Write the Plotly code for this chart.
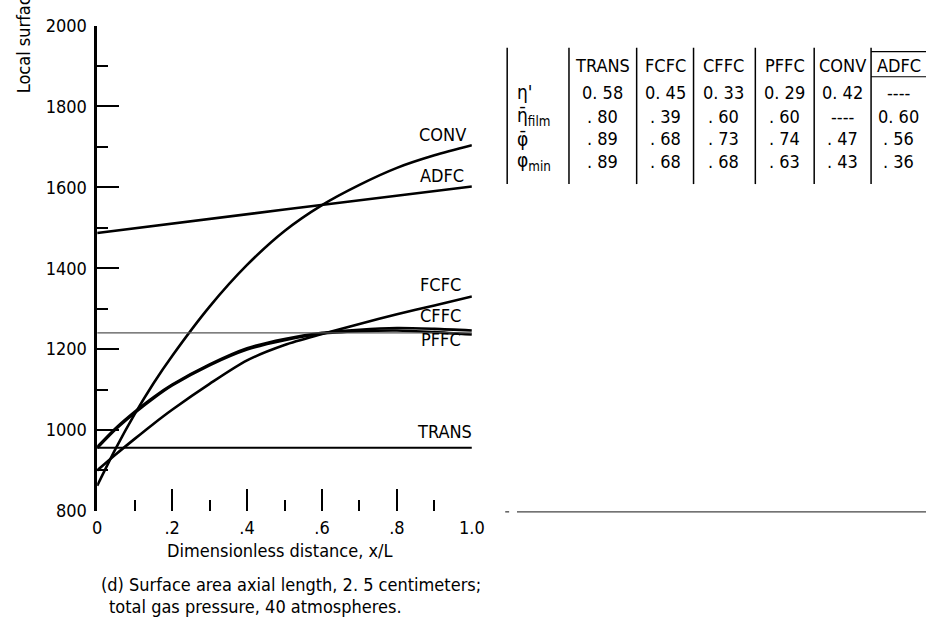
import plotly.graph_objects as go

W, H = 939, 634

# Dimensionless distance along the surface, x/L
x_pos = [0, 0.05, 0.1, 0.15, 0.2, 0.3, 0.4, 0.5, 0.6, 0.7, 0.8, 0.9, 1.0]

# Local surface temperature, K, for each cooling scheme
conv = [862, 955, 1039, 1115, 1183, 1305, 1408, 1492, 1556, 1606, 1648, 1679, 1704]
fcfc = [900, 940, 978, 1015, 1050, 1114, 1172, 1210, 1237, 1262, 1286, 1308, 1330]
cffc = [958, 1005, 1045, 1081, 1112, 1162, 1202, 1225, 1240, 1248, 1252, 1250, 1246]
pffc = [955, 1002, 1042, 1078, 1110, 1160, 1199, 1222, 1238, 1244, 1246, 1242, 1236]
adfc_x = [0, 0.5, 1.0]
adfc = [1487, 1545, 1602]
trans_x = [0, 1.0]
trans = [956, 956]
ref_x = [0, 1.0]
ref_level = [1240, 1240]

x_tick_vals = [0, 0.2, 0.4, 0.6, 0.8, 1.0]
x_tick_text = ["0", ".2", ".4", ".6", ".8", "1.0"]
y_tick_vals = [800, 1000, 1200, 1400, 1600, 1800, 2000]

# Effectiveness table
table_cols = ["TRANS", "FCFC", "CFFC", "PFFC", "CONV", "ADFC"]
row_labels = ["η'", "η̄<sub>film</sub>", "φ̄", "φ<sub>min</sub>"]
eta_prime = ["0. 58", "0. 45", "0. 33", "0. 29", "0. 42", "----"]
eta_film = [". 80", ". 39", ". 60", ". 60", "----", "0. 60"]
phi_bar = [". 89", ". 68", ". 73", ". 74", ". 47", ". 56"]
phi_min = [". 89", ". 68", ". 68", ". 63", ". 43", ". 36"]

FONT = "Liberation Sans Narrow, DejaVu Sans Condensed, Arial Narrow, sans-serif"
FS = 18


def px(xp):
    return xp / W


def py(yp):
    return 1 - yp / H


fig = go.Figure()

curve_style = dict(color="black", width=2.6)
for name, xs, ys in [("CONV", x_pos, conv), ("FCFC", x_pos, fcfc),
                     ("CFFC", x_pos, cffc), ("PFFC", x_pos, pffc),
                     ("ADFC", adfc_x, adfc)]:
    fig.add_trace(go.Scatter(x=xs, y=ys, mode="lines", name=name,
                             line=dict(shape="spline", smoothing=0.8, **curve_style)))
fig.add_trace(go.Scatter(x=trans_x, y=trans, mode="lines", name="TRANS",
                         line=dict(color="black", width=1.8)))
fig.add_trace(go.Scatter(x=ref_x, y=ref_level, mode="lines", name="reference",
                         line=dict(color="#555555", width=1.2)))

annotations = []

# Curve labels
curve_labels = [("CONV", 472, 128), ("ADFC", 470, 170), ("FCFC", 467, 283),
                ("CFFC", 467, 315), ("PFFC", 467, 340), ("TRANS", 478, 435)]
for text, xr, yc in curve_labels:
    annotations.append(dict(x=px(xr), y=py(yc), xref="paper", yref="paper",
                            text=text, showarrow=False, xanchor="right",
                            yanchor="middle", font=dict(size=FS)))

# Axis titles and caption
annotations.append(dict(x=px(163), y=py(558), xref="paper", yref="paper",
                        text="Dimensionless distance, x/L", showarrow=False,
                        xanchor="left", yanchor="middle", font=dict(size=FS)))
annotations.append(dict(x=px(19), y=py(87), xref="paper", yref="paper",
                        text="Local surface temperature, K", showarrow=False,
                        textangle=-90, xanchor="center", yanchor="bottom",
                        font=dict(size=FS)))
annotations.append(dict(x=px(97), y=py(593), xref="paper", yref="paper",
                        text="(d) Surface area axial length, 2. 5 centimeters;",
                        showarrow=False, xanchor="left", yanchor="middle",
                        borderpad=0, font=dict(size=FS)))
annotations.append(dict(x=px(105), y=py(616), xref="paper", yref="paper",
                        text="total gas pressure, 40 atmospheres.",
                        showarrow=False, xanchor="left", yanchor="middle",
                        borderpad=0, font=dict(size=FS)))

# Table text
col_centers = [609, 673, 733, 795, 854, 911]
row_y = [84, 109, 132, 156]
header_y = 56
for c, xc in zip(table_cols, col_centers):
    annotations.append(dict(x=px(xc), y=py(header_y), xref="paper", yref="paper",
                            text=c, showarrow=False, xanchor="center",
                            yanchor="middle", font=dict(size=FS)))
for lab, yr, vals in zip(row_labels, row_y, [eta_prime, eta_film, phi_bar, phi_min]):
    annotations.append(dict(x=px(520), y=py(yr), xref="paper", yref="paper",
                            text=lab, showarrow=False, xanchor="left",
                            yanchor="middle", font=dict(size=FS + 1)))
    for v, xc in zip(vals, col_centers):
        annotations.append(dict(x=px(xc), y=py(yr), xref="paper", yref="paper",
                                text=v, showarrow=False, xanchor="center",
                                yanchor="middle", font=dict(size=FS)))

shapes = []
for xv in [512, 575, 644, 702, 765, 825, 883]:
    shapes.append(dict(type="line", xref="paper", yref="paper",
                       x0=px(xv), x1=px(xv), y0=py(38), y1=py(179),
                       line=dict(color="black", width=1.5)))
shapes.append(dict(type="line", xref="paper", yref="paper",
                   x0=px(883), x1=px(939), y0=py(42), y1=py(42),
                   line=dict(color="black", width=1.2)))
shapes.append(dict(type="line", xref="paper", yref="paper",
                   x0=px(883), x1=px(939), y0=py(68), y1=py(68),
                   line=dict(color="black", width=1.2)))
# stray rule at lower right
shapes.append(dict(type="line", xref="paper", yref="paper",
                   x0=px(522), x1=px(939), y0=py(518), y1=py(518),
                   line=dict(color="#444444", width=1.3)))
shapes.append(dict(type="line", xref="paper", yref="paper",
                   x0=px(510), x1=px(514), y0=py(518), y1=py(518),
                   line=dict(color="#444444", width=1.3)))

fig.update_layout(
    width=W, height=H,
    margin=dict(l=0, r=0, t=0, b=0),
    paper_bgcolor="white", plot_bgcolor="white",
    showlegend=False,
    font=dict(family=FONT, size=FS, color="black"),
    annotations=annotations,
    shapes=shapes,
    xaxis=dict(domain=[px(94), px(476)], range=[0, 1], showgrid=False,
               zeroline=False, showline=False, ticks="inside", ticklen=22,
               tickwidth=2, tickcolor="black", tickvals=x_tick_vals,
               ticktext=x_tick_text, ticklabelstandoff=4,
               minor=dict(ticks="inside", ticklen=11, tickwidth=2,
                          tickcolor="black", tickvals=[0.1, 0.3, 0.5, 0.7, 0.9]),
               tickfont=dict(size=FS)),
    yaxis=dict(domain=[py(517), py(15)], range=[800, 2000], showgrid=False,
               zeroline=False, showline=True, linecolor="black", linewidth=2.5,
               ticks="inside", ticklen=22, tickwidth=2, tickcolor="black",
               tickvals=y_tick_vals, ticklabelstandoff=4,
               minor=dict(ticks="inside", ticklen=11, tickwidth=2,
                          tickcolor="black",
                          tickvals=[900, 1100, 1300, 1500, 1700, 1900]),
               tickfont=dict(size=FS)),
)

fig.write_html("out.html")
